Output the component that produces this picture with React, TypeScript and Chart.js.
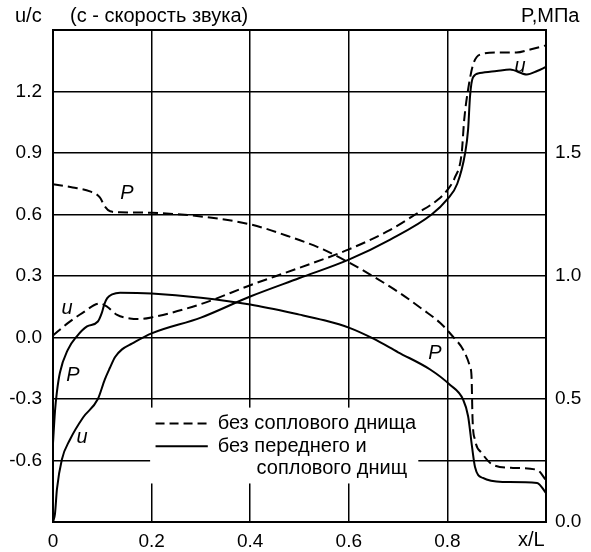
import React, { useEffect, useRef } from "react";
import { Chart, registerables } from "chart.js";

Chart.register(...registerables);

// ---- data ----
const uNoNozzleX = [0, 0.03, 0.06, 0.095, 0.11, 0.13, 0.156, 0.176, 0.2, 0.3, 0.4, 0.5, 0.6, 0.684, 0.738, 0.781, 0.8, 0.815, 0.829, 0.834, 0.842, 0.852, 0.866, 0.9, 0.94, 0.968, 1.0];
const uNoNozzleY = [0.01, 0.07, 0.12, 0.166, 0.15, 0.11, 0.093, 0.09, 0.098, 0.163, 0.255, 0.34, 0.43, 0.525, 0.605, 0.673, 0.72, 0.78, 0.9, 1.06, 1.21, 1.33, 1.38, 1.39, 1.39, 1.405, 1.425];

const uNoBothX = [0, 0.004, 0.008, 0.018, 0.034, 0.061, 0.091, 0.105, 0.115, 0.126, 0.14, 0.16, 0.2, 0.3, 0.4, 0.5, 0.6, 0.684, 0.768, 0.8, 0.82, 0.836, 0.842, 0.846, 0.852, 0.866, 0.9, 0.927, 0.961, 0.982, 1.0];
const uNoBothY = [-0.9, -0.86, -0.74, -0.595, -0.5, -0.39, -0.3, -0.205, -0.15, -0.095, -0.058, -0.03, 0.02, 0.097, 0.2, 0.29, 0.38, 0.478, 0.6, 0.675, 0.75, 0.9, 1.015, 1.18, 1.27, 1.29, 1.3, 1.307, 1.283, 1.3, 1.32];

const pNoNozzleX = [0, 0.04, 0.075, 0.095, 0.105, 0.116, 0.136, 0.2, 0.3, 0.4, 0.48, 0.548, 0.6, 0.65, 0.704, 0.75, 0.785, 0.811, 0.832, 0.846, 0.849, 0.851, 0.856, 0.87, 0.893, 0.933, 0.982, 1.0];
const pNoNozzleY = [1.373, 1.36, 1.344, 1.32, 1.283, 1.263, 1.259, 1.257, 1.242, 1.21, 1.16, 1.108, 1.055, 0.998, 0.93, 0.864, 0.81, 0.754, 0.7, 0.63, 0.59, 0.42, 0.334, 0.28, 0.232, 0.22, 0.212, 0.17];

const pNoBothX = [0, 0.004, 0.008, 0.014, 0.03, 0.048, 0.069, 0.091, 0.099, 0.104, 0.11, 0.12, 0.136, 0.2, 0.3, 0.4, 0.5, 0.55, 0.6, 0.65, 0.7, 0.765, 0.805, 0.832, 0.842, 0.85, 0.856, 0.872, 0.913, 0.982, 1.0];
const pNoBothY = [0.32, 0.45, 0.53, 0.607, 0.7, 0.754, 0.795, 0.815, 0.85, 0.885, 0.91, 0.925, 0.932, 0.929, 0.912, 0.884, 0.843, 0.82, 0.79, 0.745, 0.69, 0.62, 0.558, 0.497, 0.43, 0.305, 0.224, 0.179, 0.163, 0.159, 0.118];

const legendLabels = ["без соплового днища", "без переднего и", "соплового днищ"];
const leftTitle = "u/c";
const noteTitle = "(с - скорость звука)";
const rightTitle = "P,МПа";
const xTitle = "x/L";

const FONT = "'Liberation Sans', Arial, sans-serif";
const FS = 19;
const TS = 20;

const pts = (xs: number[], ys: number[]) => xs.map((x, i) => ({ x, y: ys[i] }));

const overlay = {
  id: "overlay",
  beforeDatasetsDraw(chart: any) {
    const { ctx, scales } = chart;
    const x = scales.x, y = scales.y;
    const l = x.getPixelForValue(0.197), r = x.getPixelForValue(0.741);
    const t = y.getPixelForValue(-0.342), b = y.getPixelForValue(-0.712);
    ctx.save();
    ctx.fillStyle = "#fff";
    ctx.fillRect(l, t, r - l, b - t);
    ctx.restore();
  },
  afterDraw(chart: any) {
    const { ctx, scales } = chart;
    const x = scales.x, y = scales.y;
    ctx.save();
    ctx.fillStyle = "#000";
    ctx.font = `${TS}px ${FONT}`;
    ctx.textBaseline = "middle";
    ctx.textAlign = "left";
    ctx.fillText(leftTitle, 15, 16);
    ctx.fillText(noteTitle, 70, 16);
    ctx.fillText(rightTitle, 521, 16);
    ctx.fillText(xTitle, 518, 540);
    // curve labels
    ctx.font = `italic ${TS}px ${FONT}`;
    ctx.textAlign = "center";
    ctx.fillText("u", 67, 308);
    ctx.fillText("P", 73, 375);
    ctx.fillText("P", 127, 193);
    ctx.fillText("u", 82, 437);
    ctx.fillText("P", 435, 353);
    ctx.fillText("u", 520, 66);
    // legend
    const lx = x.getPixelForValue(0.208);
    const sx = x.getPixelForValue(0.314);
    const tx = x.getPixelForValue(0.334);
    const y1 = y.getPixelForValue(-0.42);
    const y2 = y.getPixelForValue(-0.53);
    const y3 = y.getPixelForValue(-0.64);
    ctx.strokeStyle = "#000";
    ctx.lineWidth = 2;
    ctx.setLineDash([9, 5]);
    ctx.beginPath();
    ctx.moveTo(lx, y1);
    ctx.lineTo(sx, y1);
    ctx.stroke();
    ctx.setLineDash([]);
    ctx.beginPath();
    ctx.moveTo(lx, y2);
    ctx.lineTo(sx, y2);
    ctx.stroke();
    ctx.font = `${TS}px ${FONT}`;
    ctx.textAlign = "left";
    ctx.fillText(legendLabels[0], tx, y1);
    ctx.fillText(legendLabels[1], tx, y2);
    ctx.fillText(legendLabels[2], x.getPixelForValue(0.413), y3);
    ctx.restore();
  },
};

const fmt = (v: number) => (Math.abs(v) < 1e-9 ? "0.0" : v.toFixed(1));

export default function App() {
  const ref = useRef<HTMLCanvasElement | null>(null);
  useEffect(() => {
    if (!ref.current) return;
    const base = { borderColor: "#000", borderWidth: 2, pointRadius: 0, cubicInterpolationMode: "monotone" as const, fill: false };
    const chart = new Chart(ref.current, {
      type: "line",
      data: {
        datasets: [
          { ...base, label: "u1", data: pts(uNoNozzleX, uNoNozzleY), borderDash: [10, 5], yAxisID: "y" },
          { ...base, label: "u2", data: pts(uNoBothX, uNoBothY), yAxisID: "y" },
          { ...base, label: "p1", data: pts(pNoNozzleX, pNoNozzleY), borderDash: [10, 5], yAxisID: "y1" },
          { ...base, label: "p2", data: pts(pNoBothX, pNoBothY), yAxisID: "y1" },
        ],
      },
      options: {
        animation: false,
        responsive: false,
        devicePixelRatio: 1,
        layout: { padding: { top: 30, left: 0, right: 0, bottom: 0 } },
        plugins: { legend: { display: false }, tooltip: { enabled: false } },
        scales: {
          x: {
            type: "linear",
            min: 0,
            max: 1,
            afterFit: (s: any) => { s.height = 30; },
            ticks: {
              stepSize: 0.2,
              maxRotation: 0,
              padding: 8,
              color: "#000",
              font: { family: FONT, size: FS },
              callback: (v: any) => (v === 0 ? "0" : Math.abs(v - 1) < 1e-9 ? "" : Number(v).toFixed(1)),
            },
            grid: { color: "#000", lineWidth: (c: any) => (c.index === 0 || c.index === 5 ? 2 : 1.5), drawTicks: false },
            border: { display: true, color: "#000", width: 2 },
          },
          y: {
            type: "linear",
            position: "left",
            min: -0.9,
            max: 1.5,
            afterFit: (s: any) => { s.width = 53; },
            ticks: {
              stepSize: 0.3,
              padding: 11,
              color: "#000",
              font: { family: FONT, size: FS },
              callback: (v: any) => (Math.abs(v + 0.9) < 1e-6 || Math.abs(v - 1.5) < 1e-6 ? "" : fmt(Number(v))),
            },
            grid: { color: "#000", lineWidth: (c: any) => (c.index === 0 || c.index === 8 ? 2 : 1.5), drawTicks: false },
            border: { display: true, color: "#000", width: 2 },
          },
          y1: {
            type: "linear",
            position: "right",
            min: 0,
            max: 2,
            afterFit: (s: any) => { s.width = 45; },
            ticks: {
              stepSize: 0.5,
              padding: 9,
              color: "#000",
              font: { family: FONT, size: FS },
              callback: (v: any) => (Math.abs(v - 2) < 1e-6 ? "" : fmt(Number(v))),
            },
            grid: { display: false, drawTicks: false },
            border: { display: true, color: "#000", width: 2 },
          },
        },
      },
      plugins: [overlay],
    });
    return () => chart.destroy();
  }, []);
  return (
    <div style={{ position: "fixed", left: 0, top: 0, width: 591, height: 552, background: "#fff" }}>
      <canvas ref={ref} width={591} height={552} style={{ display: "block" }} />
    </div>
  );
}
